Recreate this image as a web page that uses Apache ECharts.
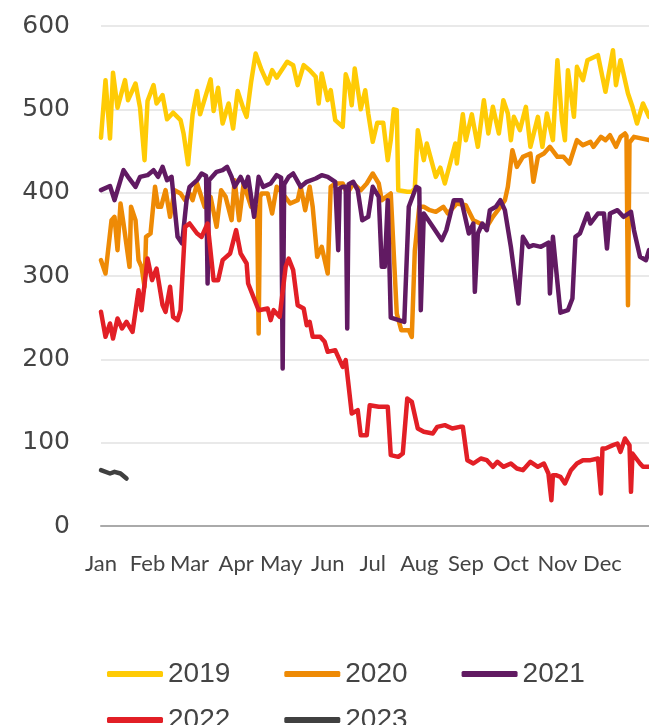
<!DOCTYPE html>
<html>
<head>
<meta charset="utf-8">
<script src="https://cdn.jsdelivr.net/npm/echarts@6/dist/echarts.min.js"></script>
<style>
  html, body { margin: 0; padding: 0; background: #fff; }
  #graph { width: 649px; height: 725px; }
</style>
</head>
<body>
<div id="graph"></div>
<script>
// day of year, value
const monthStarts = [0, 31, 59, 90, 120, 151, 181, 212, 243, 273, 304, 334]
const monthNames = ['Jan', 'Feb', 'Mar', 'Apr', 'May', 'Jun', 'Jul', 'Aug', 'Sep', 'Oct', 'Nov', 'Dec']
const yTicks = [0, 100, 200, 300, 400, 500, 600]

const y2019 = [[0,466],[3,535],[6,465],[8,544],[11,502],[16,535],[18,511],[23,531],[26,502],[29,439],[31,510],[35,529],[37,507],[41,517],[44,488],[48,496],[53,487],[55,471],[58,434],[61,494],[64,522],[66,494],[73,536],[75,498],[78,526],[81,483],[85,507],[88,477],[91,522],[95,500],[97,491],[100,533],[103,567],[107,547],[111,531],[114,547],[117,538],[124,557],[128,553],[131,529],[135,553],[139,547],[143,539],[145,507],[147,543],[151,511],[153,523],[156,487],[161,479],[163,542],[165,531],[167,505],[169,549],[173,500],[176,523],[178,495],[181,461],[184,484],[188,484],[191,439],[193,463],[195,500],[197,499],[198,403],[204,401],[207,401],[209,405],[211,475],[215,439],[217,459],[223,419],[226,430],[229,411],[236,459],[237,435],[241,494],[243,463],[247,494],[251,455],[255,511],[258,471],[261,503],[265,471],[268,511],[271,495],[273,463],[275,491],[279,475],[283,503],[286,455],[291,491],[294,455],[297,495],[301,463],[304,559],[307,487],[309,463],[311,547],[315,491],[317,551],[321,535],[324,559],[331,565],[336,521],[341,571],[343,529],[346,559],[351,519],[354,503],[357,483],[361,507],[365,491]]

const y2020 = [[0,319],[3,303],[7,367],[9,371],[11,331],[13,387],[15,363],[19,311],[20,383],[23,367],[25,319],[27,311],[29,287],[30,347],[33,351],[36,407],[38,383],[40,383],[43,403],[46,371],[49,403],[53,399],[56,391],[59,399],[61,391],[64,411],[69,383],[73,395],[77,359],[80,403],[83,395],[87,367],[89,415],[92,367],[95,411],[100,383],[104,383],[105,231],[106,395],[107,399],[111,399],[114,375],[117,407],[121,399],[126,387],[131,391],[133,407],[136,379],[139,407],[141,383],[144,323],[147,335],[149,319],[151,303],[153,407],[156,411],[161,411],[164,399],[168,411],[173,403],[177,411],[181,423],[185,411],[187,391],[193,399],[197,255],[200,235],[205,235],[207,227],[209,330],[212,383],[215,383],[219,379],[223,377],[228,383],[231,375],[237,387],[243,385],[248,367],[257,359],[261,371],[266,383],[269,391],[271,407],[274,451],[277,431],[281,443],[286,447],[288,413],[291,443],[295,447],[299,455],[304,443],[308,443],[312,435],[317,463],[321,457],[326,461],[328,455],[333,467],[336,463],[339,469],[343,455],[346,467],[349,471],[350,468],[351,265],[352,460],[355,467],[365,463]]

const y2021 = [[0,403],[6,408],[9,391],[15,427],[18,419],[23,407],[26,419],[31,421],[35,427],[38,419],[41,431],[44,415],[47,419],[51,347],[54,339],[57,391],[59,407],[64,415],[67,423],[70,420],[71,291],[72,415],[77,425],[81,427],[84,431],[87,419],[89,407],[93,419],[96,407],[98,419],[102,371],[105,419],[108,407],[113,411],[117,421],[120,418],[121,189],[122,410],[125,419],[128,423],[133,407],[137,413],[143,417],[147,421],[151,419],[156,413],[157,413],[158,331],[159,405],[161,407],[163,407],[164,237],[165,410],[168,413],[171,403],[174,367],[178,371],[181,407],[185,395],[187,311],[189,311],[191,391],[193,250],[202,245],[205,383],[210,407],[212,405],[213,259],[215,375],[221,359],[227,343],[230,355],[235,391],[240,391],[245,351],[248,363],[249,281],[251,351],[254,363],[257,355],[259,379],[263,383],[266,391],[269,379],[273,335],[278,267],[281,347],[285,335],[288,337],[293,335],[298,340],[299,279],[301,347],[306,256],[311,259],[314,273],[316,347],[319,351],[324,375],[326,363],[331,375],[335,375],[337,333],[339,375],[344,379],[348,371],[353,377],[355,355],[359,323],[363,319],[365,331]]

const y2022 = [[0,257],[3,227],[6,243],[8,225],[11,249],[14,237],[17,245],[21,233],[25,283],[27,259],[31,321],[34,295],[37,309],[41,265],[43,257],[46,287],[48,251],[51,247],[53,259],[56,359],[59,363],[64,351],[67,347],[71,363],[75,295],[78,295],[81,319],[86,327],[90,355],[93,327],[97,315],[98,291],[105,259],[111,261],[113,247],[115,259],[119,251],[123,311],[125,321],[128,307],[131,265],[135,261],[137,241],[139,245],[141,227],[146,227],[149,221],[151,209],[156,211],[161,191],[163,199],[165,167],[167,135],[171,139],[173,109],[177,109],[179,145],[185,143],[191,143],[193,85],[198,83],[201,87],[204,153],[207,149],[211,117],[215,113],[221,111],[224,119],[229,121],[234,117],[239,119],[241,119],[244,79],[248,75],[253,81],[257,79],[261,71],[264,77],[268,71],[273,75],[277,69],[281,67],[286,77],[291,71],[295,75],[298,63],[300,31],[301,61],[303,61],[306,59],[309,51],[313,67],[317,75],[321,79],[326,79],[331,81],[332,81],[333,39],[334,93],[336,93],[341,97],[344,99],[346,89],[349,105],[352,97],[353,41],[354,87],[355,87],[359,75],[361,71],[365,71]]

const y2023 = [[0,67],[6,63],[9,65],[13,63],[17,57]]

const names = ['2019', '2020', '2021', '2022', '2023']
const colors = ['#FFCB05', '#EE8A05', '#611A62', '#E21F26', '#404040']
const seriesData = [y2019, y2020, y2021, y2022, y2023]

let graph = echarts.init(document.getElementById('graph'))

const legendBase = {
  left: 102,
  orient: 'horizontal',
  icon: 'roundRect',
  itemWidth: 56,
  itemHeight: 6,
  itemGap: 54,
  selectedMode: false,
  textStyle: {
    fontFamily: 'Liberation Sans',
    fontSize: 28,
    color: '#444',
    width: 62,
    padding: [0, 0, 0, 0]
  }
}

graph.setOption({
  animation: false,
  backgroundColor: '#fff',
  color: colors,
  grid: {
    left: 101,
    right: 0,
    top: 26,
    bottom: 199
  },
  legend: [
    Object.assign({}, legendBase, { top: 655, data: names.slice(0, 3) }),
    Object.assign({}, legendBase, { top: 701, data: names.slice(3) })
  ],
  xAxis: {
    type: 'value',
    min: 0,
    max: 365,
    axisLine: { show: true, lineStyle: { color: '#aaa', width: 2 } },
    axisTick: { show: false },
    splitLine: { show: false },
    axisLabel: {
      customValues: monthStarts,
      formatter: (v) => monthNames[monthStarts.indexOf(v)],
      fontFamily: 'Lato',
      fontSize: 22,
      color: '#444',
      margin: 27
    }
  },
  yAxis: {
    type: 'value',
    min: yTicks[0],
    max: yTicks[yTicks.length - 1],
    interval: 100,
    axisLine: { show: false },
    axisTick: { show: false },
    splitLine: { lineStyle: { color: '#e2e2e2', width: 1.5 } },
    axisLabel: {
      fontFamily: 'DejaVu Sans',
      fontSize: 25,
      color: '#444',
      margin: 31
    }
  },
  series: seriesData.map((d, i) => ({
    name: names[i],
    type: 'line',
    data: d,
    symbol: 'none',
    lineStyle: { width: 4.5, cap: 'round', join: 'round' },
    z: 2 + i
  }))
})
</script>
</body>
</html>
